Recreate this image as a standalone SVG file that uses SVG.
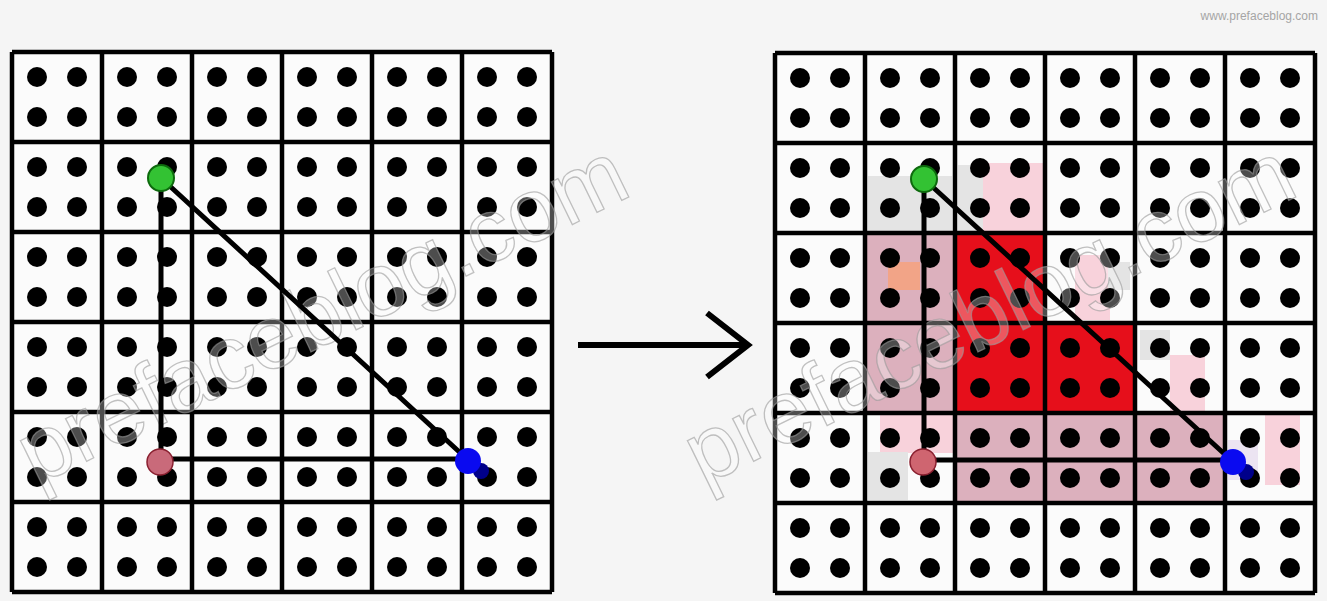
<svg xmlns="http://www.w3.org/2000/svg" xmlns:xlink="http://www.w3.org/1999/xlink" width="1327" height="601" viewBox="0 0 1327 601">
  <style>
    .dot { fill: #000; }
    .gridline { stroke: #000; stroke-width: 4.5; fill: none; }
    .edge { stroke: #000; stroke-width: 5; fill: none; stroke-linecap: round; }
    .arrow { stroke: #000; stroke-width: 6; fill: none; }
    .wm { font-family: "Liberation Sans", Arial, sans-serif; font-size: 90px; fill: #ffffff; fill-opacity: 0.3; stroke: #9a9a9a; stroke-opacity: 0.6; stroke-width: 1.3; }
    .credit { font-family: "Liberation Sans", Arial, sans-serif; font-size: 12px; fill: #a5a5a5; }
    .red { fill: #e60f1b; }
    .mauve { fill: #dcb0bd; }
    .lpink { fill: #f8d2db; }
    .lgray { fill: #e4e4e4; }
    .salmon { fill: #f2a487; }
  </style>
  <defs>
    <g id="cellDots">
      <circle class="dot" cx="25" cy="25" r="10"/>
      <circle class="dot" cx="65" cy="25" r="10"/>
      <circle class="dot" cx="25" cy="65" r="10"/>
      <circle class="dot" cx="65" cy="65" r="10"/>
    </g>
    <g id="dotRow">
      <use xlink:href="#cellDots" x="0"/>
      <use xlink:href="#cellDots" x="90"/>
      <use xlink:href="#cellDots" x="180"/>
      <use xlink:href="#cellDots" x="270"/>
      <use xlink:href="#cellDots" x="360"/>
      <use xlink:href="#cellDots" x="450"/>
    </g>
    <g id="gridBody">
      <use xlink:href="#dotRow" y="0"/>
      <use xlink:href="#dotRow" y="90"/>
      <use xlink:href="#dotRow" y="180"/>
      <use xlink:href="#dotRow" y="270"/>
      <use xlink:href="#dotRow" y="360"/>
      <use xlink:href="#dotRow" y="450"/>
      <path class="gridline" d="M0 0H540M0 90H540M0 180H540M0 270H540M0 360H540M0 450H540M0 540H540M0 0V540M90 0V540M180 0V540M270 0V540M360 0V540M450 0V540M540 0V540"/>
    </g>
  </defs>

  <rect id="background" x="0" y="0" width="1327" height="601" fill="#f5f5f5"/>

  <g id="grid-left">
    <rect x="12" y="52" width="540" height="540" fill="#fbfbfb"/>
    <use xlink:href="#gridBody" x="12" y="52"/>
  </g>

  <g id="grid-right">
    <rect x="775" y="53" width="540" height="540" fill="#fbfbfb"/>
    <g id="coverage">
      <rect class="lgray" x="868" y="176" width="84" height="55"/>
      <rect class="lgray" x="958" y="165" width="26" height="66"/>
      <rect class="lpink" x="983" y="163" width="60" height="68"/>
      <rect class="mauve" x="865" y="233" width="90" height="180"/>
      <rect class="salmon" x="888" y="262" width="32" height="28"/>
      <rect class="red" x="955" y="233" width="90" height="90"/>
      <rect class="red" x="955" y="323" width="180" height="90"/>
      <rect class="lpink" x="1075" y="255" width="35" height="65"/>
      <rect class="lgray" x="1108" y="262" width="22" height="28"/>
      <rect class="lgray" x="1140" y="330" width="30" height="30"/>
      <rect class="lpink" x="1170" y="355" width="35" height="58"/>
      <rect class="lpink" x="880" y="413" width="75" height="40"/>
      <rect class="lgray" x="868" y="452" width="40" height="48"/>
      <rect class="mauve" x="955" y="413" width="270" height="90"/>
      <rect class="lpink" x="1265" y="415" width="35" height="70"/>
      <rect fill="#ece4f2" x="1228" y="440" width="30" height="40"/>
    </g>
    <use xlink:href="#gridBody" x="775" y="53"/>
  </g>

  <g id="watermarks">
    <text class="wm" x="36" y="486" transform="rotate(-26 36 486)">prefaceblog.com</text>
    <text class="wm" x="703" y="486" transform="rotate(-26 703 486)">prefaceblog.com</text>
  </g>

  <g id="connectors">
    <line class="edge" x1="161" y1="178" x2="161" y2="460"/>
    <line class="edge" x1="161" y1="459" x2="467" y2="459"/>
    <line class="edge" x1="161" y1="178" x2="467" y2="459"/>
    <line class="edge" x1="924" y1="179" x2="924" y2="460"/>
    <line class="edge" x1="924" y1="460" x2="1231" y2="460"/>
    <line class="edge" x1="924" y1="179" x2="1231" y2="460"/>
    <g id="transform-arrow">
      <line class="arrow" x1="578" y1="345" x2="746" y2="345"/>
      <polyline class="arrow" points="707,313 748,345 707,377" stroke-width="7"/>
    </g>
  </g>

  <g id="v-green-left"><circle cx="161" cy="178" r="13" fill="#33c233" stroke="#0d6a0d" stroke-width="2"/></g>
  <g id="v-pink-left"><circle cx="160" cy="462" r="13" fill="#c96a7a" stroke="#8a2030" stroke-width="1.5"/></g>
  <g id="v-blue-left"><circle cx="481" cy="471" r="8" fill="#00008a"/><circle cx="468" cy="461" r="13" fill="#0a0af0"/></g>

  <g id="v-green-right"><circle cx="924" cy="179" r="13" fill="#33c233" stroke="#0d6a0d" stroke-width="2"/></g>
  <g id="v-pink-right"><circle cx="923" cy="462" r="13" fill="#cf6570" stroke="#8a2030" stroke-width="1.5"/></g>
  <g id="v-blue-right"><circle cx="1246" cy="472" r="8" fill="#00008a"/><circle cx="1233" cy="462" r="13" fill="#0a0af0"/></g>

  <text class="credit" x="1318" y="20" text-anchor="end">www.prefaceblog.com</text>
</svg>
